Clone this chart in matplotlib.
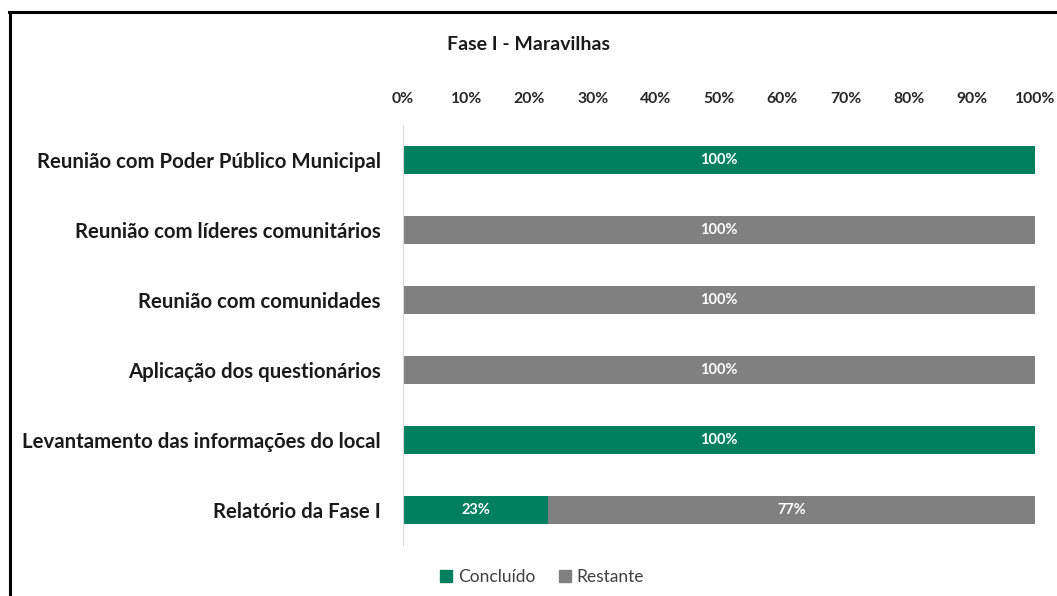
import matplotlib.pyplot as plt
from matplotlib.lines import Line2D
from matplotlib.patches import Patch

# Data
tasks = [
    "Reunião com Poder Público Municipal",
    "Reunião com líderes comunitários",
    "Reunião com comunidades",
    "Aplicação dos questionários",
    "Levantamento das informações do local",
    "Relatório da Fase I",
]
concluido = [100, 0, 0, 0, 100, 23]
restante = [0, 100, 100, 100, 0, 77]
ticks = [0, 10, 20, 30, 40, 50, 60, 70, 80, 90, 100]

green = "#00805F"
gray = "#808080"

plt.rcParams["font.family"] = ["Lato", "DejaVu Sans"]

fig = plt.figure(figsize=(10.57, 5.96), dpi=100)
ax = fig.add_axes([0.3813, 0.0856, 0.5979, 0.7047])

y = list(range(len(tasks)))
ax.barh(y, concluido, height=0.4, color=green, label="Concluído")
ax.barh(y, restante, left=concluido, height=0.4, color=gray, label="Restante")

# Value labels in the middle of each segment
for i in y:
    if concluido[i] > 0:
        ax.text(concluido[i] / 2, i, f"{concluido[i]}%", ha="center", va="center",
                color="white", fontsize=10.5, fontweight="bold")
    if restante[i] > 0:
        ax.text(concluido[i] + restante[i] / 2, i, f"{restante[i]}%", ha="center",
                va="center", color="white", fontsize=10.5, fontweight="bold")

ax.set_xlim(0, 100)
ax.set_ylim(len(tasks) - 0.5, -0.5)
ax.set_xticks(ticks)
ax.set_xticklabels([f"{t}%" for t in ticks])
ax.xaxis.tick_top()
ax.tick_params(axis="x", length=0, pad=14, labelsize=11.3, colors="#262626")
ax.set_yticks(y)
ax.set_yticklabels(tasks, fontweight="bold", fontsize=14.7, color="#1a1a1a")
ax.tick_params(axis="y", length=0, pad=16)
for lbl in ax.get_xticklabels():
    lbl.set_fontweight("bold")

for s in ["top", "right", "bottom"]:
    ax.spines[s].set_visible(False)
ax.spines["left"].set_color("#d9d9d9")

fig.text(0.5, 0.925, "Fase I - Maravilhas", ha="center", va="center",
         fontsize=14, fontweight="bold", color="#1a1a1a")

handles = [Patch(color=green, label="Concluído"), Patch(color=gray, label="Restante")]
fig.legend(handles=handles, loc="center", bbox_to_anchor=(0.513, 0.032), ncol=2,
           frameon=False, fontsize=12.5, handlelength=0.7, handleheight=0.7,
           handletextpad=0.3, columnspacing=1.4, labelcolor="#404040")

# Frame lines on the left and top (as in the source image)
fig.add_artist(Line2D([0.0095, 0.0095], [0.0, 0.98], color="black", lw=2.2,
                      transform=fig.transFigure))
fig.add_artist(Line2D([0.0085, 1.0], [0.98, 0.98], color="black", lw=2.2,
                      transform=fig.transFigure))

fig.savefig("out.png", dpi=100)
